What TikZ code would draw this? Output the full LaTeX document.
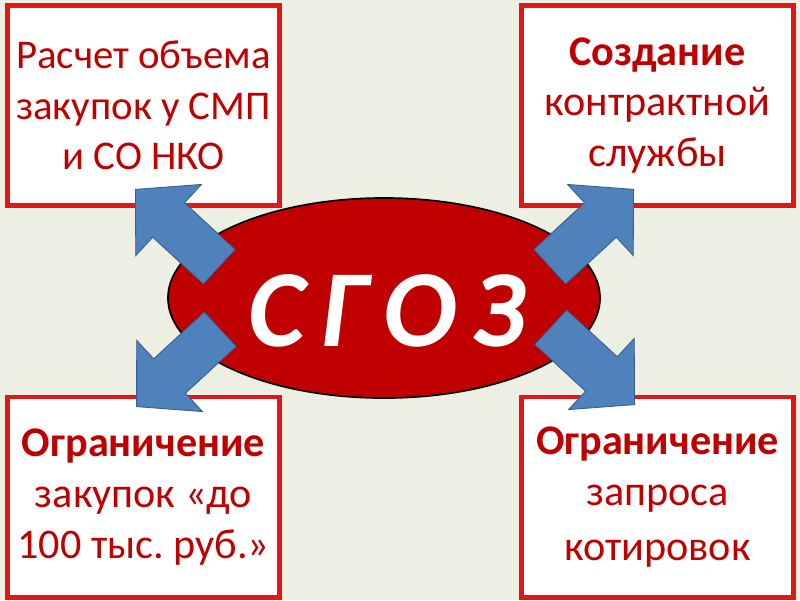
\documentclass[tikz,border=0pt]{standalone}
\usepackage{fontspec}
\setmainfont{Carlito}
\frenchspacing
\usetikzlibrary{shapes.geometric,shapes.arrows}
\definecolor{bgcream}{RGB}{237,239,226}
\definecolor{boxred}{RGB}{226,22,22}
\definecolor{textred}{RGB}{190,0,0}
\definecolor{ovalred}{RGB}{192,0,0}
\definecolor{arrowblue}{RGB}{79,129,189}
\definecolor{arrowedge}{RGB}{56,93,138}
\tikzset{
  infobox/.style={draw=boxred, fill=white, line width=3.5pt, minimum width=6.8cm, minimum height=5cm,
    inner sep=0pt, align=center, text=textred, font=\fontsize{30}{36}\selectfont},
  bluearrow/.style={single arrow, draw=arrowedge, fill=arrowblue, line width=0.6pt, minimum height=2.85cm,
    single arrow head extend=0.625cm, single arrow tip angle=94, inner xsep=0pt, inner ysep=0.575cm, anchor=tip}
}
\begin{document}
\begin{tikzpicture}[x=0.025cm, y=-0.025cm]
  \fill[bgcream] (0,0) rectangle (800,600);
  \useasboundingbox (0,0) rectangle (800,600);
  % the four boxes
  \node[infobox, font=\fontsize{29}{36}\selectfont] (volume) at (143.5,105.5) {Расчет объема\\закупок у СМП\\и СО НКО};
  \node[infobox] (service) at (657.5,105.5) {\textbf{Создание}\\контрактной\\службы};
  \node[infobox] (limit) at (143.5,497) {\textbf{Ограничение}\\закупок «до\\100 тыс. руб.»};
  \node[infobox] (quotes) at (657.5,497) {\textbf{Ограничение}\\запроса\\[3pt]котировок};
  % centre oval
  \node[ellipse, draw=black, line width=1.2pt, fill=ovalred, minimum width=10.8cm, minimum height=5cm] (sgoz) at (384,298) {};
  % arrows out to the boxes
  \node[bluearrow, rotate=137.3] (toVolume) at (135,189) {};
  \node[bluearrow, rotate=42.7] (toService) at (634,189) {};
  \node[bluearrow, rotate=-137.3] (toLimit) at (136,407) {};
  \node[bluearrow, rotate=-42.7] (toQuotes) at (635,405) {};
  \node[text=white, font=\fontsize{78}{80}\selectfont\bfseries\itshape, inner sep=0pt] (sgozlabel) at (387,311)
    {С\kern0.14em Г\kern0.14em О\kern0.14em З};
\end{tikzpicture}
\end{document}
